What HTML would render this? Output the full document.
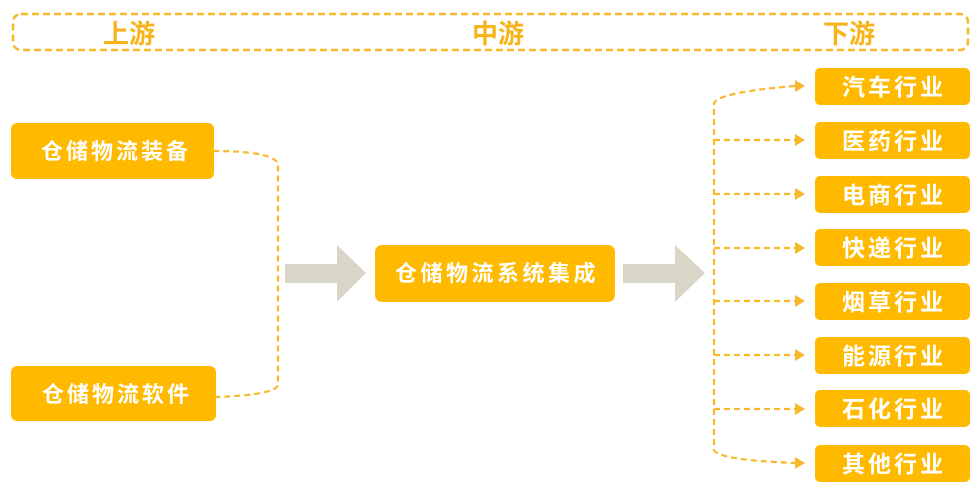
<!DOCTYPE html>
<html><head><meta charset="utf-8"><style>
html,body{margin:0;padding:0;background:#fff;}
svg{display:block;}
text{font-family:"Liberation Sans","Noto Sans CJK SC",sans-serif;}
</style></head><body>
<svg width="980" height="495" viewBox="0 0 980 495" xmlns="http://www.w3.org/2000/svg">
<rect x="13" y="14" width="955" height="36" rx="8" fill="none" stroke="#F7B92A" stroke-width="2.5" stroke-dasharray="7,4"/>
<g fill="#F7B31A" font-size="26" font-weight="bold" text-anchor="middle">
<text x="129" y="43">上游</text>
<text x="498" y="43">中游</text>
<text x="849" y="43">下游</text>
</g>
<g fill="none" stroke="#F7B92A" stroke-width="2.2" stroke-dasharray="6,4">
<path d="M213 151 Q270 151 278 163 L278 385 Q275 395 216 397"/>
<path d="M795 86 Q720 92 714 103 L714 450 Q718 460 795 463"/>
<path d="M714 140 H795 M714 194 H795 M714 248 H795 M714 301 H795 M714 355 H795 M714 409 H795"/>
</g>
<g fill="#F7B92A">
<path d="M795 80 L805 86 L795 92Z"/>
<path d="M795 134 L805 140 L795 146Z"/>
<path d="M795 188 L805 194 L795 200Z"/>
<path d="M795 242 L805 248 L795 254Z"/>
<path d="M795 295 L805 301 L795 307Z"/>
<path d="M795 349 L805 355 L795 361Z"/>
<path d="M795 403 L805 409 L795 415Z"/>
<path d="M795 457 L805 463 L795 469Z"/>
</g>
<g fill="#D9D6C7">
<path d="M285 264 H337 V245 L366 273 L337 302 V283 H285Z"/>
<path d="M623 264 H675 V245 L705 273 L675 302 V283 H623Z"/>
</g>
<g fill="#FFBA00">
<rect x="11" y="123" width="203" height="56" rx="6"/>
<rect x="11" y="366" width="205" height="55" rx="6"/>
<rect x="375" y="245" width="240" height="57" rx="7"/>
<rect x="815" y="68" width="155" height="37" rx="5"/>
<rect x="815" y="122" width="155" height="37" rx="5"/>
<rect x="815" y="176" width="155" height="37" rx="5"/>
<rect x="815" y="229" width="155" height="37" rx="5"/>
<rect x="815" y="283" width="155" height="37" rx="5"/>
<rect x="815" y="337" width="155" height="37" rx="5"/>
<rect x="815" y="390" width="155" height="37" rx="5"/>
<rect x="815" y="445" width="155" height="37" rx="5"/>
</g>
<g fill="#fff" font-size="22" font-weight="bold" text-anchor="middle">
<text x="116" y="159" letter-spacing="3">仓储物流装备</text>
<text x="117" y="402" letter-spacing="3">仓储物流软件</text>
<text x="497" y="281" letter-spacing="3.5">仓储物流系统集成</text>
</g>
<g fill="#fff" font-size="23" font-weight="bold" text-anchor="middle" letter-spacing="3">
<text x="894" y="95">汽车行业</text>
<text x="894" y="149">医药行业</text>
<text x="894" y="203">电商行业</text>
<text x="894" y="256">快递行业</text>
<text x="894" y="310">烟草行业</text>
<text x="894" y="364">能源行业</text>
<text x="894" y="417">石化行业</text>
<text x="894" y="472">其他行业</text>
</g>
</svg>
</body></html>
